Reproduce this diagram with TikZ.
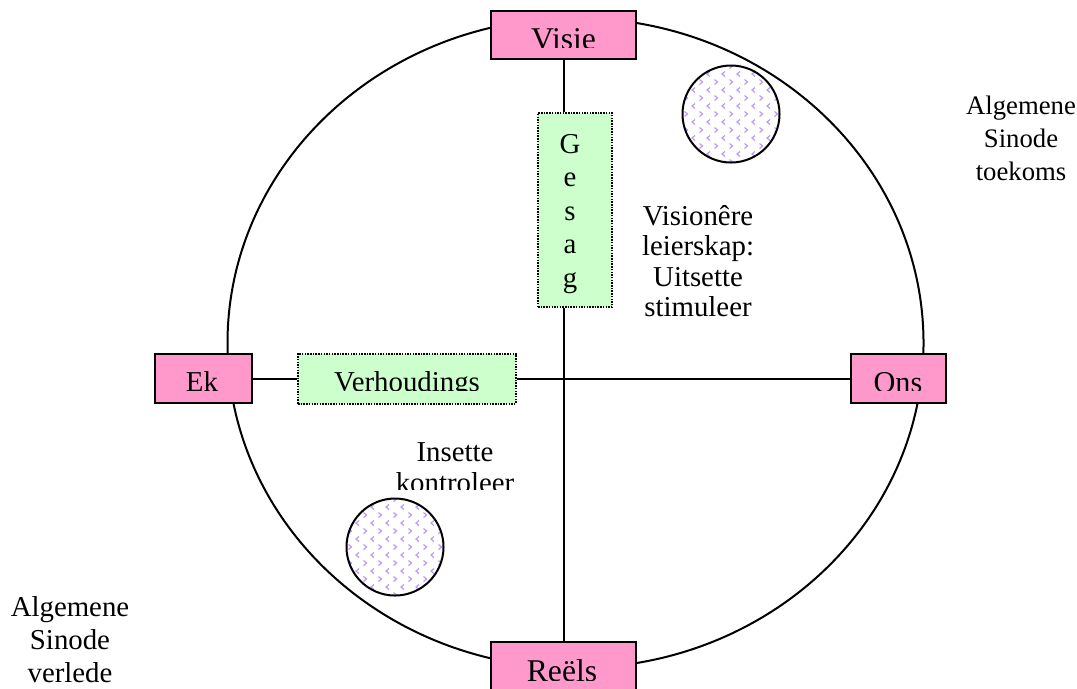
\documentclass[tikz,border=0pt]{standalone}
\usepackage{fontspec}
\setmainfont{Liberation Serif}

\definecolor{rimpink}{HTML}{FF99CC}
\definecolor{softgreen}{HTML}{CCFFCC}
\definecolor{dotlilac}{HTML}{BC98FF}

\tikzset{
  pole/.style={draw, fill=rimpink, minimum width=14.5mm, minimum height=4.8mm, inner sep=0pt},
  force/.style={draw, fill=softgreen, dash pattern=on 0.15mm off 0.12mm, inner sep=0pt},
  chev/.style={dotlilac, line width=0.12mm},
  note/.style={align=center, inner sep=0pt, font=\fontsize{8.2pt}{#1}\selectfont},
  note/.default=9.4pt
}

\newcommand{\cutlabel}[4][0.15mm]{%
  \begin{scope}
    \clip ([shift={(-20mm,8mm)}]#3) rectangle ([shift={(20mm,#1)}]#3);
    \node[anchor=base, inner sep=0pt] (#2) at (#3) {#4};
  \end{scope}}

\newcommand{\patdisc}[2]{%
  \begin{scope}
    \clip (#1,#2) circle [radius=48.5];
    \foreach \dy in {-48,-32,...,48}
      \foreach \dx in {-45,-30,...,45} {
        \draw[chev] (#1+\dx-1.5,#2+\dy-2.5) -- ++(3,2.5) -- ++(-3,2.5);
        \draw[chev] (#1+\dx+9,#2+\dy+5.5) -- ++(-3,2.5) -- ++(3,2.5);
      }
  \end{scope}
  \draw (#1,#2) circle [radius=48.5];}

\newcommand{\bigger}{\fontsize{9pt}{10pt}\selectfont}

\begin{document}
\begin{tikzpicture}[x=0.1mm, y=-0.1mm, line width=0.2mm, font=\fontsize{8.2pt}{9.5pt}\selectfont]
   \useasboundingbox (0,0) rectangle (1077,688);
   \draw (575.5,343) ellipse [x radius=348, y radius=325];
   \patdisc{731}{114}
   \patdisc{395}{547}

   \node[pole] (visie) at (563.5,35) {};
   \node[pole] (reels) at (563.5,666) {};
   \node[pole, minimum width=9.7mm, minimum height=4.9mm] (ek) at (203.5,378.5) {};
   \node[pole, minimum width=9.5mm, minimum height=4.9mm] (ons) at (898.5,378.5) {};
   \node[force, minimum width=7.4mm, minimum height=19.4mm] (gesag) at (575,210) {};
   \node[force, minimum width=21.8mm, minimum height=5mm] (verh) at (407,378.5) {};

   \draw (visie.south) -- (visie.south |- gesag.north);
   \draw (visie.south |- gesag.south) -- (reels.north);
   \draw (ek) -- (verh) -- (ons);

   \cutlabel{visietxt}{563.5,49}{\bigger Visie}
   \cutlabel[0.05mm]{ektxt}{202,391}{Ek}
   \cutlabel{verhtxt}{407,391.5}{Verhoudings}
   \cutlabel{onstxt}{898,392}{\fontsize{8.6pt}{10pt}\selectfont Ons}
   \cutlabel[0.1mm]{reelstxt}{562,681}{\bigger Reëls}
   \cutlabel[0.3mm]{kontrtxt}{455,492}{kontroleer}

   \foreach \ch [count=\i] in {G,e,s,a,g}
     \node[anchor=base, inner sep=0pt] (gesag\i) at (570,119.5+33.5*\i) {\ch};

   \node[anchor=base, inner sep=0pt] (insette) at (455,461) {Insette};
   \node[note=8.6pt] (leier) at (698,261) {Visionêre\\leierskap:\\Uitsette\\stimuleer};
   \node[note, font=\fontsize{7.6pt}{9.4pt}\selectfont] (toekoms) at (1021,138) {Algemene\\Sinode\\toekoms};
   \node[note] (verlede) at (70,640) {Algemene\\Sinode\\verlede};
\end{tikzpicture}
\end{document}
